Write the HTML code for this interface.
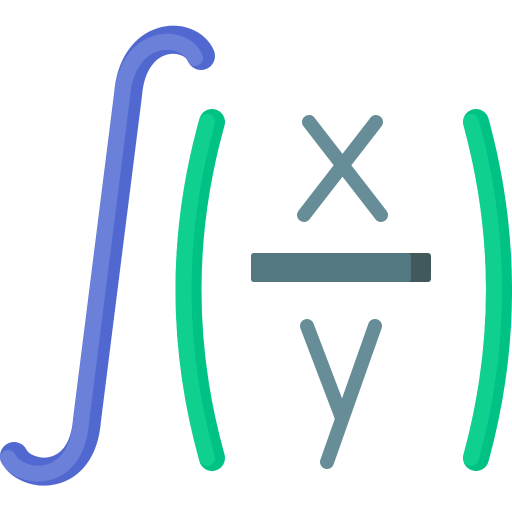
<!DOCTYPE html>
<html><head><meta charset="utf-8"><style>
html,body{margin:0;padding:0;background:#fff;width:512px;height:512px;overflow:hidden}
</style></head><body>
<svg width="512" height="512" viewBox="0 0 512 512" xmlns="http://www.w3.org/2000/svg">
 <g fill="none" stroke-linejoin="round">
  <path d="M 14 456 C 25 478, 82 485, 87 420 L 128 95 C 133 30, 190 30, 201 56" stroke="#5068d0" stroke-width="28" stroke-linecap="round"/>
  <path d="M 14 456 C 25 478, 82 485, 87 420 L 128 95 C 133 30, 190 30, 201 56" stroke="#6b80d8" stroke-width="16" stroke-linecap="round" transform="translate(-6,2)"/>
 </g>
 <g fill="none">
  <path d="M 212 122 Q 165 290 212 458" stroke="#00c285" stroke-width="26" stroke-linecap="round"/>
  <path d="M 207 122 Q 160 290 207 458" stroke="#10d090" stroke-width="16" stroke-linecap="round"/>
 </g>
 <g fill="none">
  <path d="M 476 122 Q 522 290 476 458" stroke="#00c285" stroke-width="26" stroke-linecap="round"/>
  <path d="M 471 122 Q 517 290 471 458" stroke="#10d090" stroke-width="16" stroke-linecap="round"/>
 </g>
 <g stroke="#678d98" stroke-width="14" stroke-linecap="round" fill="none">
  <line x1="309" y1="122" x2="381" y2="215"/>
  <line x1="376" y1="122" x2="304" y2="215"/>
 </g>
 <g>
  <rect x="251" y="253" width="180" height="29" rx="3" fill="#41595a"/>
  <rect x="251" y="253" width="160" height="29" rx="3" fill="#537882"/>
 </g>
 <g stroke="#678d98" stroke-width="14" stroke-linecap="round" fill="none">
  <line x1="307" y1="326" x2="342" y2="418"/>
  <line x1="375" y1="326" x2="327" y2="462"/>
 </g>
</svg>
</body></html>
